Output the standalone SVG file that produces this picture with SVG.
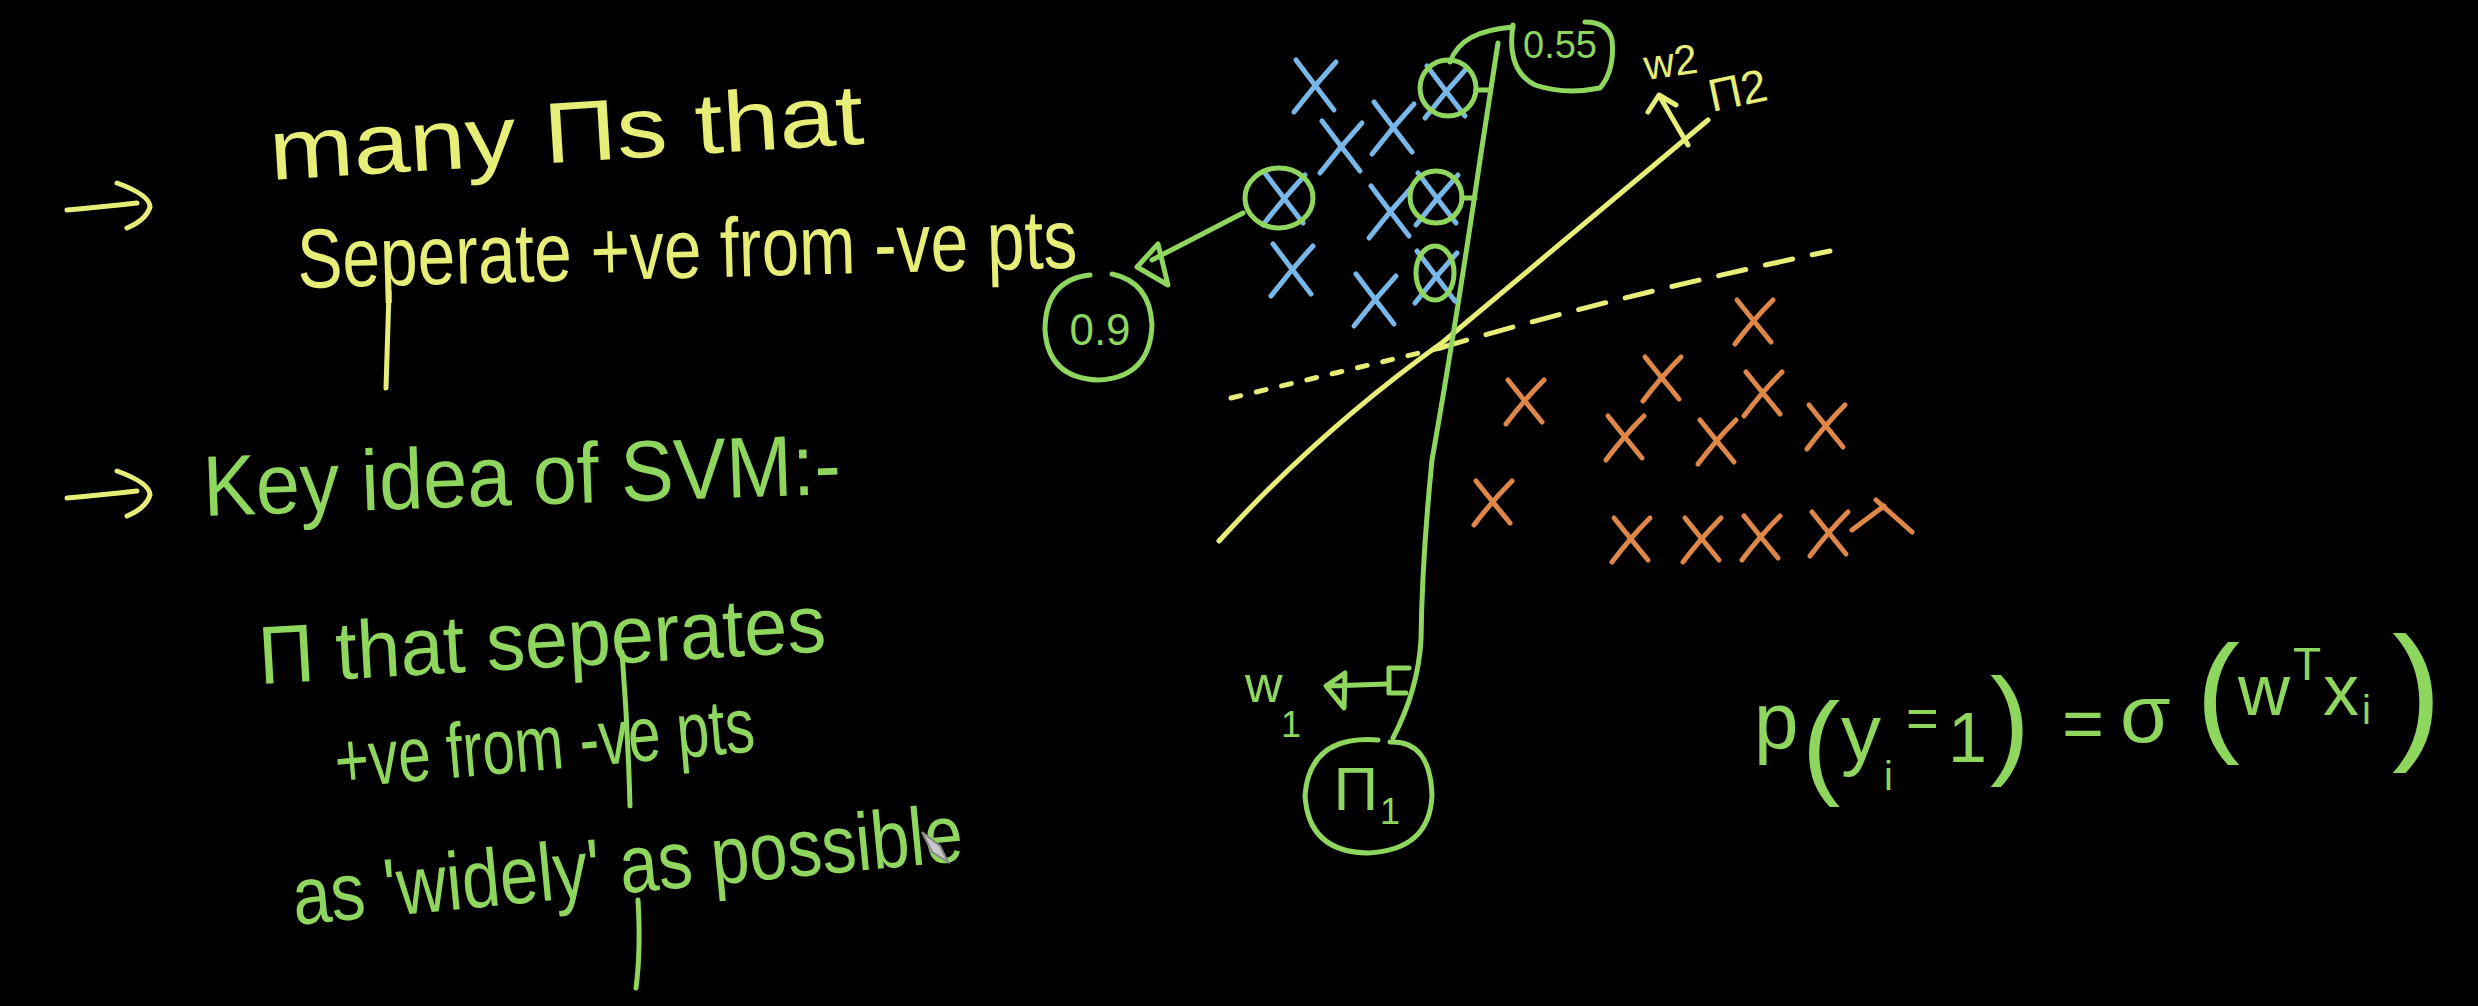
<svg xmlns="http://www.w3.org/2000/svg" xmlns:xlink="http://www.w3.org/1999/xlink" width="2478" height="1006" viewBox="0 0 2478 1006">
<style>
.y{stroke:#e6ee78;fill:none;stroke-width:5;stroke-linecap:round;stroke-linejoin:round}
.g{stroke:#8fd65e;fill:none;stroke-width:5;stroke-linecap:round;stroke-linejoin:round}
.b{stroke:#78b8e8;fill:none;stroke-width:5;stroke-linecap:round}
.o{stroke:#df8748;fill:none;stroke-width:5;stroke-linecap:round}
.ty{fill:#e6ee78;font-family:"Liberation Sans",Arial,sans-serif}
.tg{fill:#8fd65e;font-family:"Liberation Sans",Arial,sans-serif}
</style>
<defs>
<path id="arr" d="M67,210 Q100,207 137,203 M117,183 Q150,195 150,207 Q146,220 127,228"/>
<path id="bx" d="M-18,-24 Q0,0 20,26 M22,-22 Q0,2 -20,28"/>
<path id="ox" d="M-16,-20 Q0,0 18,22 M20,-20 Q0,0 -18,24"/>
</defs>
<rect width="2478" height="1006" fill="#000"/>

<g id="notes-top">
<use href="#arr" class="y"/>
<text class="ty" x="271" y="180" font-size="86" textLength="595" lengthAdjust="spacingAndGlyphs" transform="rotate(-3.5 271 180)">many Πs that</text>
<text class="ty" x="298" y="288" font-size="84" textLength="780" lengthAdjust="spacingAndGlyphs" transform="rotate(-1.5 298 288)">Seperate +ve from -ve pts</text>
<path class="y" d="M389,292 L386,388"/>
</g>

<g id="notes-svm">
<use href="#arr" class="y" transform="translate(0,288)"/>
<text class="tg" x="204" y="516" font-size="86" textLength="638" lengthAdjust="spacingAndGlyphs" transform="rotate(-2 204 516)">Key idea of SVM:-</text>
<text class="tg" x="260" y="684" font-size="82" textLength="568" lengthAdjust="spacingAndGlyphs" transform="rotate(-3.3 260 684)">Π that seperates</text>
<text class="tg" x="337" y="788" font-size="78" textLength="421" lengthAdjust="spacingAndGlyphs" transform="rotate(-5 337 788)">+ve from -ve pts</text>
<text class="tg" x="295" y="925" font-size="82" textLength="673" lengthAdjust="spacingAndGlyphs" transform="rotate(-5.5 295 925)">as 'widely' as possible</text>
<path class="g" d="M622,652 Q628,730 630,806"/>
<path class="g" d="M638,900 Q641,950 636,988"/>
<path d="M922,832 L940,846 L948,862 L932,852 Z" fill="#c8c8c8" stroke="#888" stroke-width="2"/>
</g>

<g id="planes">
<path class="y" d="M1219,541 Q1320,430 1443,342 L1708,120"/>
<path class="y" d="M1231,398 L1440,348" stroke-dasharray="10 16"/>
<path class="y" d="M1440,348 Q1600,300 1830,251" stroke-dasharray="28 20"/>
<path class="y" d="M1688,145 L1660,97 M1648,112 L1659,95 L1676,105"/>
<text class="ty" x="1646" y="80" font-size="42" transform="rotate(-8 1646 80)">w2</text>
<text class="ty" x="1712" y="112" font-size="46" transform="rotate(-12 1712 112)">Π2</text>
<path class="g" d="M1498,43 L1480,160 Q1455,330 1432,460 Q1422,560 1421,640 Q1418,690 1393,738"/>
<path class="g" d="M1387,684 L1328,686 M1326,686 L1345,673 L1344,708 Z"/>
<path class="g" d="M1409,668 L1389,668 L1389,693 L1406,693"/>
<text class="tg" x="1245" y="702" font-size="52">w</text>
<text class="tg" x="1281" y="737" font-size="36">1</text>
</g>

<g id="blue-points">
<use href="#bx" class="b" x="1314" y="84"/>
<use href="#bx" class="b" x="1340" y="145"/>
<use href="#bx" class="b" x="1392" y="126"/>
<use href="#bx" class="b" x="1445" y="90"/>
<use href="#bx" class="b" x="1389" y="210"/>
<use href="#bx" class="b" x="1436" y="197"/>
<use href="#bx" class="b" x="1291" y="268"/>
<use href="#bx" class="b" x="1374" y="298"/>
<use href="#bx" class="b" x="1435" y="275"/>
<use href="#bx" class="b" x="1283" y="197"/>
</g>

<g id="orange-points">
<use href="#ox" class="o" x="1753" y="320"/>
<use href="#ox" class="o" x="1661" y="377"/>
<use href="#ox" class="o" x="1524" y="400"/>
<use href="#ox" class="o" x="1762" y="392"/>
<use href="#ox" class="o" x="1624" y="436"/>
<use href="#ox" class="o" x="1716" y="440"/>
<use href="#ox" class="o" x="1825" y="425"/>
<use href="#ox" class="o" x="1492" y="501"/>
<use href="#ox" class="o" x="1630" y="538"/>
<use href="#ox" class="o" x="1701" y="538"/>
<use href="#ox" class="o" x="1760" y="536"/>
<use href="#ox" class="o" x="1828" y="532"/>
<path class="o" d="M1852,530 L1884,506 M1876,500 L1912,532"/>
</g>

<g id="support-circles">
<circle class="g" cx="1448" cy="88" r="28"/>
<path class="g" d="M1476,90 L1489,90"/>
<circle class="g" cx="1436" cy="197" r="26"/>
<path class="g" d="M1462,198 L1475,198"/>
<ellipse class="g" cx="1435" cy="273" rx="19" ry="27"/>
<ellipse class="g" cx="1279" cy="198" rx="34" ry="30"/>
</g>

<g id="node-055">
<path class="g" d="M1450,62 C1458,40 1478,30 1513,27"/>
<path class="g" d="M1513,25 Q1506,70 1535,85 Q1565,95 1600,88 Q1615,70 1612,40 Q1608,22 1585,22"/>
<text class="tg" x="1560" y="58" font-size="38" text-anchor="middle">0.55</text>
</g>

<g id="node-09">
<path class="g" d="M1243,213 L1152,260 M1137,267 L1158,244 L1168,285 Z"/>
<path class="g" d="M1090,275 Q1045,280 1045,330 Q1048,378 1098,380 Q1150,378 1152,325 Q1150,282 1112,274"/>
<text class="tg" x="1100" y="345" font-size="44" text-anchor="middle">0.9</text>
</g>

<g id="node-pi1">
<path class="g" d="M1378,740 Q1310,735 1305,795 Q1308,852 1368,853 Q1430,850 1432,795 Q1430,740 1390,742"/>
<text class="tg" x="1356" y="810" font-size="62" text-anchor="middle">Π</text>
<text class="tg" x="1380" y="824" font-size="36">1</text>
</g>

<g id="formula">
<text class="tg" x="1754" y="748" font-size="80">p</text>
<text class="tg" x="1802" y="783" font-size="115">(</text>
<text class="tg" x="1841" y="760" font-size="80">y</text>
<text class="tg" x="1884" y="790" font-size="40">i</text>
<text class="tg" x="1906" y="737" font-size="56">=</text>
<text class="tg" x="1948" y="762" font-size="70">1</text>
<text class="tg" x="1990" y="762" font-size="120">)</text>
<text class="tg" x="2062" y="748" font-size="72">=</text>
<text class="tg" x="2120" y="742" font-size="82">σ</text>
<text class="tg" x="2196" y="738" font-size="132">(</text>
<text class="tg" x="2238" y="715" font-size="72">w</text>
<text class="tg" x="2293" y="680" font-size="46">T</text>
<text class="tg" x="2323" y="715" font-size="72">x</text>
<text class="tg" x="2362" y="724" font-size="40">i</text>
<text class="tg" x="2392" y="742" font-size="150">)</text>
</g>
</svg>
